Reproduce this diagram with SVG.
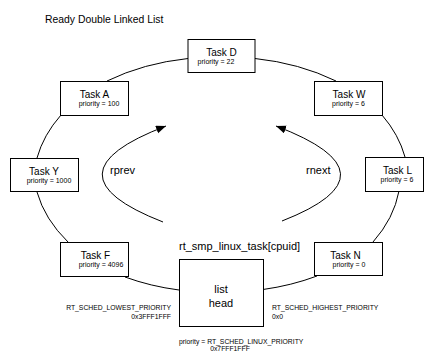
<svg xmlns="http://www.w3.org/2000/svg" width="427" height="353" viewBox="0 0 427 353">
<style>
text{font-family:"Liberation Sans",Arial,sans-serif;fill:#000}
.box{fill:#fff;stroke:#000;stroke-width:1}
.name{font-size:10px;text-anchor:middle}
.pri{font-size:7px;text-anchor:middle}
.sm{font-size:6.8px}
.lbl{font-size:11px}
.conn path{fill:none;stroke:#000;stroke-width:1}
</style>
<defs>
<marker id="ah" markerUnits="userSpaceOnUse" markerWidth="12" markerHeight="10" refX="10" refY="4" orient="auto">
<path d="M0,0 L10,4 L0,8 Z" fill="#000"/>
</marker>
</defs>
<rect width="427" height="353" fill="#fff"/>
<text x="45" y="23" style="font-size:10.4px">Ready Double Linked List</text>
<g id="connectors" class="conn">
<path d="M255,58.5 A190 130 0 0 1 336,81"/>
<path d="M382,115 A190 130 0 0 1 405,157"/>
<path d="M399,191 A190 130 0 0 1 373,242"/>
<path d="M317,276 A190 130 0 0 1 263,289.5"/>
<path d="M179,290 A190 130 0 0 1 125,277"/>
<path d="M68,242 A190 130 0 0 1 37,192"/>
<path d="M37,158 A190 130 0 0 1 61,115"/>
<path d="M107,81 A190 130 0 0 1 188,58.5"/>
<path d="M163,222 Q40,174 166,126" marker-end="url(#ah)"/>
<path d="M282,221 Q402,174 276,126" marker-end="url(#ah)"/>
</g>
<text class="lbl" x="110" y="174">rprev</text>
<text class="lbl" x="306" y="174">rnext</text>
<g id="taskD"><rect class="box" x="188" y="39.5" width="67" height="33"/><text class="name" x="221.5" y="56">Task D</text><text class="pri" x="216" y="63.5">priority = 22</text></g>
<g id="taskA"><rect class="box" x="60.5" y="81.5" width="68" height="34"/><text class="name" x="94.5" y="98">Task A</text><text class="pri" x="99" y="106">priority = 100</text></g>
<g id="taskW"><rect class="box" x="314.5" y="81.5" width="68" height="34"/><text class="name" x="349" y="98">Task W</text><text class="pri" x="348.5" y="106">priority = 6</text></g>
<g id="taskY"><rect class="box" x="10.5" y="158.5" width="68" height="33"/><text class="name" x="44" y="175">Task Y</text><text class="pri" x="49" y="183">priority = 1000</text></g>
<g id="taskL"><rect class="box" x="365.5" y="157.5" width="58" height="34"/><text class="name" x="397.5" y="174">Task L</text><text class="pri" x="397" y="182">priority = 6</text></g>
<g id="taskF"><rect class="box" x="60.5" y="242.5" width="68" height="34"/><text class="name" x="95.5" y="259">Task F</text><text class="pri" x="101" y="267">priority = 4096</text></g>
<g id="taskN"><rect class="box" x="314.5" y="242.5" width="68" height="33"/><text class="name" x="345.5" y="259">Task N</text><text class="pri" x="349" y="267">priority = 0</text></g>
<g id="listHead">
<text class="lbl" x="179" y="250">rt_smp_linux_task[cpuid]</text>
<rect class="box" x="179.5" y="259.5" width="84" height="67"/>
<text class="lbl" x="221" y="293" text-anchor="middle">list</text>
<text class="lbl" x="221" y="307" text-anchor="middle">head</text>
<text class="sm" x="179" y="344">priority = RT_SCHED_LINUX_PRIORITY</text>
<text class="sm" x="230" y="351" text-anchor="middle">0x7FFF1FFF</text>
</g>
<text class="sm" x="171" y="310" text-anchor="end">RT_SCHED_LOWEST_PRIORITY</text>
<text class="sm" x="171" y="319" text-anchor="end">0x3FFF1FFF</text>
<text class="sm" x="272" y="310">RT_SCHED_HIGHEST_PRIORITY</text>
<text class="sm" x="272" y="319">0x0</text>
</svg>
